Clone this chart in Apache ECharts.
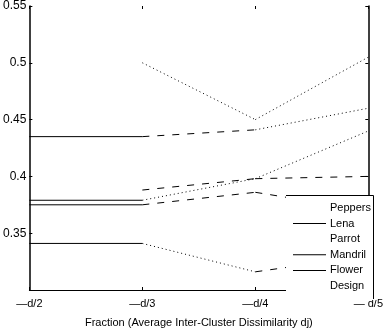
<!DOCTYPE html>
<html>
<head>
<meta charset="utf-8">
<script src="https://cdn.jsdelivr.net/npm/echarts@6/dist/echarts.min.js"></script>
<style>
  html, body { margin: 0; padding: 0; background: #fff; }
  #chart { width: 386px; height: 333px; }
</style>
</head>
<body>
<div id="chart"></div>
<script>
// x positions: fractions of the average inter-cluster dissimilarity
const categories = ['—d/2', '—d/3', '—d/4', '— d/5'];
const yTicks = [0.3, 0.35, 0.4, 0.45, 0.5, 0.55];

const names = ['Peppers', 'Lena', 'Parrot', 'Mandril', 'Flower', 'Design'];

// values (null = not visible)
const peppers = [null, 0.5, 0.45, 0.505];
const lena = [0.435, 0.435, 0.441, 0.46];
const parrot = [null, 0.388, 0.398, 0.40];
const mandril = [0.379, 0.379, 0.398, 0.44];
const flower = [0.375, 0.375, 0.386, 0.37];
const design = [0.341, 0.341, 0.316, 0.33];

// line style of each segment between consecutive x positions
const peppersSeg = [null, 'dot', 'dot'];
const lenaSeg = ['solid', 'dash', 'dot'];
const parrotSeg = [null, 'dash', 'dash'];
const mandrilSeg = ['solid', 'dot', 'dot'];
const flowerSeg = ['solid', 'dash', 'dash'];
const designSeg = ['solid', 'dot', 'dash'];

const values = [peppers, lena, parrot, mandril, flower, design];
const segs = [peppersSeg, lenaSeg, parrotSeg, mandrilSeg, flowerSeg, designSeg];
const solidInLegend = ['Lena', 'Mandril', 'Flower'];

const dashTypes = { solid: 'solid', dash: [7, 8], dot: [1, 3] };

const series = [];
names.forEach((name, k) => {
  segs[k].forEach((s, i) => {
    if (!s) return;
    const data = values[k].map((v, j) => (j === i || j === i + 1) ? v : null);
    series.push({
      name: name,
      type: 'line',
      data: data,
      symbol: 'none',
      silent: true,
      z: 2,
      itemStyle: { color: '#000' },
      lineStyle: { color: '#000', width: 1, type: dashTypes[s] }
    });
  });
});

const chart = echarts.init(document.getElementById('chart'), null, { renderer: 'canvas' });

chart.setOption({
  backgroundColor: '#fff',
  animation: false,
  grid: { left: 23, right: 8, top: 5, bottom: 32, containLabel: false },
  legend: {
    orient: 'vertical',
    left: 286,
    top: 196,
    padding: [5, 6, 7, 7],
    itemWidth: 33,
    itemHeight: 1,
    itemGap: 1.6,
    backgroundColor: '#fff',
    z: 10,
    textStyle: { fontFamily: 'Liberation Sans, Arial', fontSize: 11, lineHeight: 14, color: '#000', padding: [0, 0, 0, -1] },
    data: names.map(n => ({
      name: n,
      icon: 'rect',
      itemStyle: { color: solidInLegend.includes(n) ? '#000' : 'rgba(0,0,0,0)', borderWidth: 0 },
      lineStyle: { opacity: 0 }
    }))
  },
  xAxis: [{
    type: 'category',
    data: categories,
    boundaryGap: false,
    name: 'Fraction (Average Inter-Cluster Dissimilarity dj)',
    nameLocation: 'middle',
    nameGap: 27,
    nameTextStyle: { fontFamily: 'Liberation Sans, Arial', fontSize: 11, color: '#000' },
    axisLine: { show: true, lineStyle: { color: '#000', width: 1 } },
    axisTick: { show: true, inside: true, length: 3, alignWithLabel: true, lineStyle: { color: '#000' } },
    axisLabel: { fontFamily: 'Liberation Sans, Arial', fontSize: 11, color: '#000', margin: 8 },
    splitLine: { show: false }
  }, {
    type: 'category',
    data: categories,
    boundaryGap: false,
    position: 'top',
    axisLine: { show: false },
    axisTick: { show: true, inside: true, length: 3, lineStyle: { color: '#000' } },
    axisLabel: { show: false },
    splitLine: { show: false }
  }],
  yAxis: [{
    type: 'value',
    min: yTicks[0],
    max: yTicks[yTicks.length - 1],
    interval: 0.05,
    axisLine: { show: true, lineStyle: { color: '#000', width: 1.5 } },
    axisTick: { show: true, inside: true, length: 3, lineStyle: { color: '#000' } },
    axisLabel: {
      fontFamily: 'Liberation Sans, Arial', fontSize: 12, color: '#000', margin: 3,
      formatter: v => (Math.abs(v - 0.3) < 1e-9 ? '' : String(+v.toFixed(2)))
    },
    splitLine: { show: false }
  }, {
    type: 'value',
    position: 'right',
    min: yTicks[0],
    max: yTicks[yTicks.length - 1],
    interval: 0.05,
    axisLine: { show: true, lineStyle: { color: '#000', width: 1.5 } },
    axisTick: { show: true, inside: true, length: 3, lineStyle: { color: '#000' } },
    axisLabel: { show: false },
    splitLine: { show: false }
  }],
  graphic: [{
    type: 'polyline',
    z: 20,
    shape: { points: [[286, 195.5], [373.5, 195.5], [373.5, 299]] },
    style: { stroke: '#000', lineWidth: 1, fill: null }
  }],
  series: series
});
</script>
</body>
</html>
